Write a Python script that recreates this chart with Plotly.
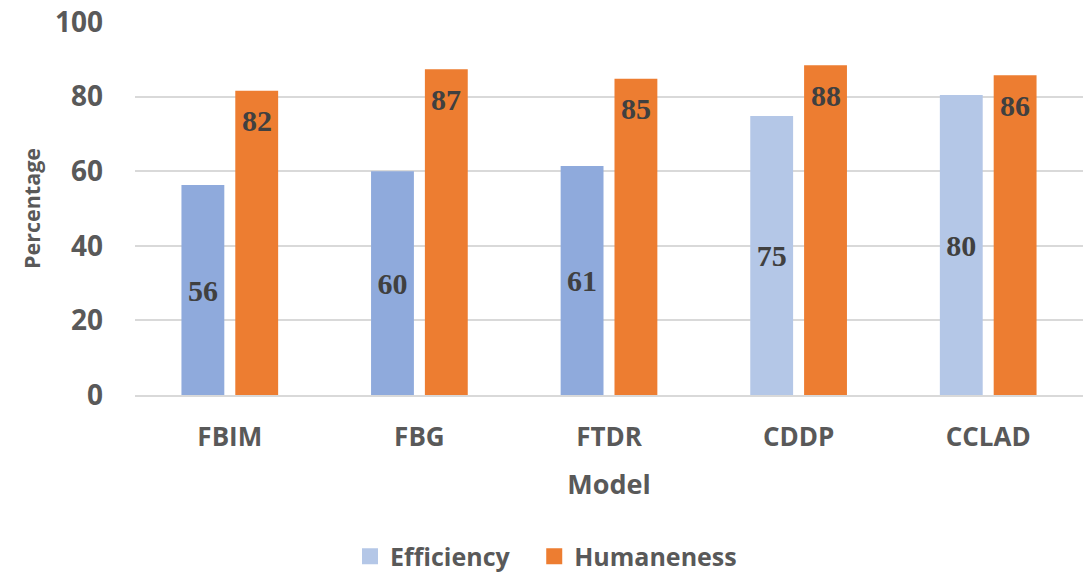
import plotly.graph_objects as go

models = ["FBIM", "FBG", "FTDR", "CDDP", "CCLAD"]
efficiency = [56.3, 60.0, 61.4, 74.8, 80.4]
humaneness = [81.6, 87.3, 84.8, 88.4, 85.7]
efficiency_colors = ["#8FAADC", "#8FAADC", "#8FAADC", "#B4C7E7", "#B4C7E7"]

ORANGE = "#ED7D31"
LIGHT_BLUE = "#B4C7E7"
GRID = "#D9D9D9"
AXIS_TEXT = "#595959"
LABEL_TEXT = "#404040"
SANS = "Open Sans"
SERIF = "Liberation Serif"

BARGAP = 0.432
BARGROUPGAP = 0.204
NBSP = "\u00a0"

fig = go.Figure()

fig.add_trace(go.Bar(
    x=models, y=efficiency, name="Efficiency",
    marker=dict(color=efficiency_colors, line=dict(width=0)),
    texttemplate="%{y:.0f}", textposition="inside", insidetextanchor="middle",
    textangle=0,
    textfont=dict(family=SERIF, size=30, color=LABEL_TEXT, weight="bold"),
    showlegend=False,
))
fig.add_trace(go.Bar(
    x=models, y=humaneness, name="Humaneness",
    marker=dict(color=ORANGE, line=dict(width=0)),
    textposition="none",
    showlegend=False,
))

# value labels near the top of the orange bars (offset to the second bar slot)
for m, v in zip(models, humaneness):
    fig.add_annotation(
        x=m, y=v, xref="x", yref="y", text=f"{v:.0f}", showarrow=False,
        xshift=27, yshift=-30, yanchor="middle",
        font=dict(family=SERIF, size=30, color=LABEL_TEXT, weight="bold"),
    )

# legend entries with square swatches (extra spacing after the first entry)
for name, color in [("Efficiency" + NBSP * 3, LIGHT_BLUE), ("Humaneness", ORANGE)]:
    fig.add_trace(go.Scatter(
        x=[None], y=[None], mode="markers", name=name,
        marker=dict(symbol="square", size=18, color=color),
    ))

fig.update_layout(
    width=1092, height=576,
    margin=dict(l=134.5, r=9, t=21.7, b=181),
    paper_bgcolor="white", plot_bgcolor="white",
    barmode="group", bargap=BARGAP, bargroupgap=BARGROUPGAP,
    font=dict(family=SANS, color=AXIS_TEXT),
    legend=dict(
        orientation="h", xref="container", yref="container",
        x=0.5, xanchor="center", y=0.034, yanchor="middle",
        font=dict(family=SANS, size=25, color=AXIS_TEXT, weight="bold"),
        itemclick=False,
    ),
    xaxis=dict(
        automargin=False,
        showgrid=False, showline=True, linecolor=GRID, linewidth=1.5,
        tickfont=dict(family=SANS, size=26, color=AXIS_TEXT, weight="bold"),
        ticklabelstandoff=18,
        title=dict(text="Model", standoff=22,
                   font=dict(family=SANS, size=27, color=AXIS_TEXT, weight="bold")),
    ),
    yaxis=dict(
        automargin=False,
        range=[0, 100], dtick=20, showgrid=True, gridcolor=GRID, gridwidth=1.5,
        zeroline=False,
        tickfont=dict(family=SANS, size=28, color=AXIS_TEXT, weight="bold"),
        ticklabelstandoff=31,
        title=dict(text="Percentage", standoff=8,
                   font=dict(family=SANS, size=21.5, color=AXIS_TEXT, weight="bold")),
    ),
)

fig.write_html("out.html")
